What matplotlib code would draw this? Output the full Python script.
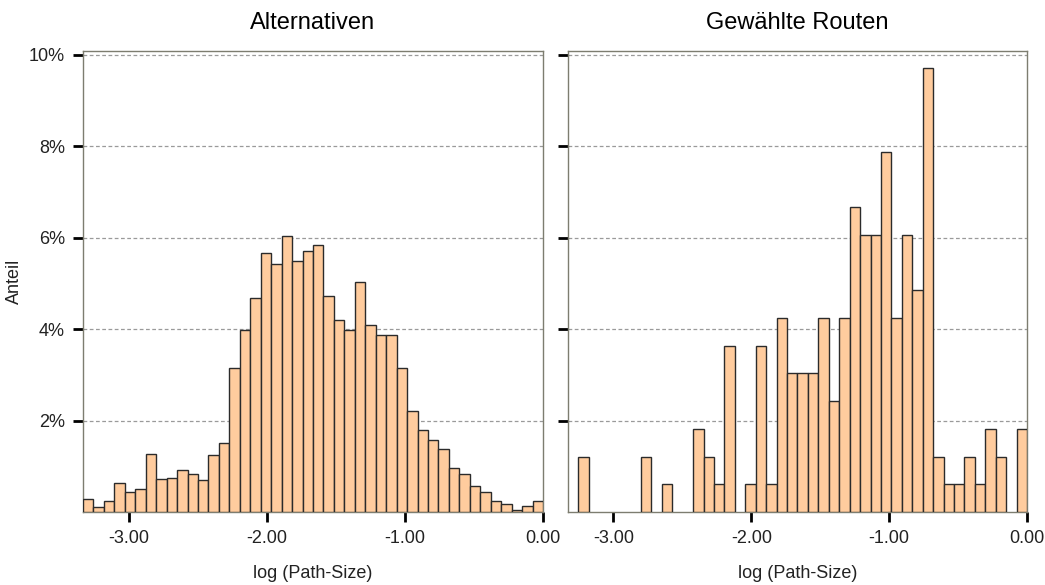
import numpy as np
import matplotlib
matplotlib.use("Agg")
import matplotlib.pyplot as plt
from matplotlib.ticker import FuncFormatter

plt.rcParams['font.family'] = ['Liberation Sans', 'DejaVu Sans']

# bin range of log(Path-Size), 44 equal bins
bin_lo = -3.33
bin_hi = 0.0
n_bins = 44

# share per bin in percent
alternativen = [0.28, 0.12, 0.25, 0.63, 0.44, 0.50, 1.27, 0.72, 0.75, 0.92,
                0.83, 0.69, 1.24, 1.51, 3.14, 3.97, 4.68, 5.67, 5.43, 6.04,
                5.48, 5.70, 5.84, 4.73, 4.20, 3.97, 5.04, 4.08, 3.88, 3.88,
                3.14, 2.20, 1.79, 1.57, 1.37, 0.97, 0.83, 0.57, 0.44, 0.24,
                0.18, 0.05, 0.14, 0.25]
gewaehlt = [0.00, 1.21, 0.00, 0.00, 0.00, 0.00, 0.00, 1.21, 0.00, 0.61,
            0.00, 0.00, 1.82, 1.21, 0.61, 3.64, 0.00, 0.61, 3.64, 0.61,
            4.24, 3.03, 3.03, 3.03, 4.24, 2.42, 4.24, 6.67, 6.06, 6.06,
            7.88, 4.24, 6.06, 4.85, 9.70, 1.21, 0.61, 0.61, 1.21, 0.61,
            1.82, 1.21, 0.00, 1.82]

titles = ["Alternativen", "Gewählte Routen"]
x_ticks = [-3.0, -2.0, -1.0, 0.0]
y_ticks = [2, 4, 6, 8, 10]

fig = plt.figure(figsize=(10.45, 5.85), dpi=100)
ax1 = fig.add_axes([0.0794, 0.1248, 0.4402, 0.788])
ax2 = fig.add_axes([0.5435, 0.1248, 0.4393, 0.788])

edges = np.linspace(bin_lo, bin_hi, n_bins + 1)
width = edges[1] - edges[0]
spine_col = '#7d7d70'

for ax, vals, title in zip([ax1, ax2], [alternativen, gewaehlt], titles):
    vals = np.array(vals)
    keep = vals > 0
    ax.bar(edges[:-1][keep], vals[keep], width=width, align='edge',
           color='#ffcc9e', edgecolor='#2b2b2b', linewidth=1.0, zorder=3)
    ax.set_xlim(bin_lo, bin_hi)
    ax.set_ylim(0, 10.08)
    ax.set_yticks(y_ticks)
    ax.set_xticks(x_ticks)
    ax.xaxis.set_major_formatter(FuncFormatter(lambda v, p: f"{v:.2f}"))
    ax.yaxis.grid(True, linestyle=(0, (3, 2)), color='#9a9a9a', linewidth=0.9, zorder=0)
    ax.set_axisbelow(True)
    for s in ax.spines.values():
        s.set_color(spine_col)
        s.set_linewidth(1.0)
    ax.tick_params(axis='both', direction='out', length=7, width=2, color='black',
                   labelsize=13, labelcolor='#222222', pad=6)
    ax.set_title(title, fontsize=17, pad=16)
    ax.set_xlabel("log (Path-Size)", fontsize=13, color='#222222', labelpad=13)

ax1.yaxis.set_major_formatter(FuncFormatter(lambda v, p: f"{v:.0f}%"))
ax1.set_ylabel("Anteil", fontsize=13, color='#222222', labelpad=4)
ax2.set_yticklabels([])

fig.savefig("out.png", dpi=100)
